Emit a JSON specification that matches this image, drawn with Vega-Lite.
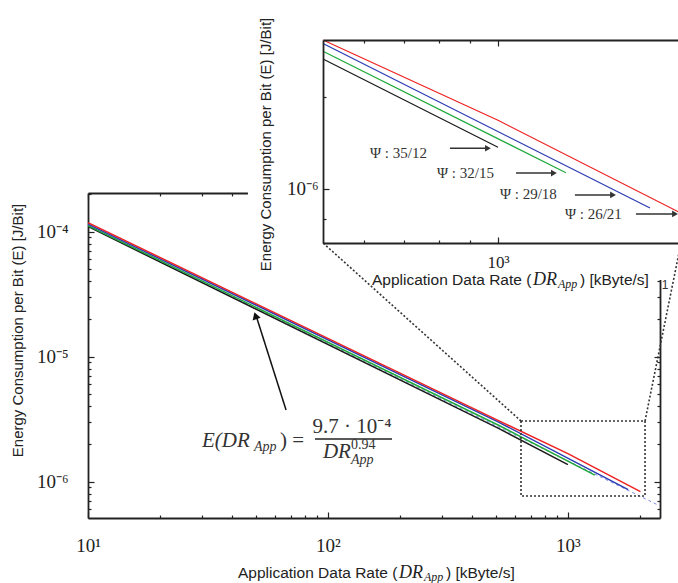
{
  "$schema": "https://vega.github.io/schema/vega-lite/v6.json",
  "width": 572,
  "height": 325,
  "autosize": {"type": "none"},
  "padding": {"left": 88, "top": 193, "right": 18, "bottom": 65},
  "background": "white",
  "config": {"view": {"stroke": null}, "axis": {"grid": false}},
  "datasets": {
    "lines": [
      {"series": "35/12", "x": 10, "y": 1.10e-4},
      {"series": "35/12", "x": 514, "y": 2.67e-6},
      {"series": "35/12", "x": 1000, "y": 1.37e-6},
      {"series": "32/15", "x": 10, "y": 1.12e-4},
      {"series": "32/15", "x": 514, "y": 2.83e-6},
      {"series": "32/15", "x": 1295, "y": 1.13e-6},
      {"series": "29/18", "x": 10, "y": 1.15e-4},
      {"series": "29/18", "x": 514, "y": 3.00e-6},
      {"series": "29/18", "x": 1783, "y": 8.66e-7},
      {"series": "26/21", "x": 10, "y": 1.18e-4},
      {"series": "26/21", "x": 514, "y": 3.08e-6},
      {"series": "26/21", "x": 1000, "y": 1.68e-6},
      {"series": "26/21", "x": 2006, "y": 8.33e-7}
    ],
    "fit": [{"x": 10, "y": 1.114e-4}, {"x": 2420, "y": 6.40e-7}],
    "connectors": [
      {"x": 637.6, "y": 3.06e-6, "x2": 95.4, "y2": 8.13e-5},
      {"x": 2096, "y": 3.06e-6, "x2": 2960, "y2": 8.13e-5}
    ],
    "psi": [
      {"label": "Ψ : 35/12", "tx": 614.6, "ty": 1.315e-6, "ax": 833, "ax2": 962.7, "ay": 1.360e-6},
      {"label": "Ψ : 32/15", "tx": 793, "ty": 1.126e-6, "ax": 1071, "ax2": 1237, "ay": 1.128e-6},
      {"label": "Ψ : 29/18", "tx": 1007.6, "ty": 9.63e-7, "ax": 1340, "ax2": 1549, "ay": 9.56e-7},
      {"label": "Ψ : 26/21", "tx": 1290, "ty": 8.28e-7, "ax": 1690, "ax2": 1961, "ay": 8.28e-7}
    ],
    "one": [{}]
  },
  "resolve": {
    "scale": {"x": "independent", "y": "independent"},
    "axis": {"x": "independent", "y": "independent"}
  },
  "layer": [
    {
      "data": {"name": "fit"},
      "mark": {"type": "line", "color": "#7b8ce6", "strokeWidth": 1, "strokeDash": [3, 3], "clip": true},
      "encoding": {
        "x": {"field": "x", "type": "quantitative", "scale": {"type": "log", "domain": [10, 2420], "nice": false},
          "axis": {"orient": "top", "values": [10,20,30,40,50,60,70,80,90,100,200,300,400,500,600,700,800,900,1000,2000], "labels": false, "title": null, "zindex": 0,
            "tickSize": {"condition": {"test": "datum.value == 10 || datum.value == 100 || datum.value == 1000", "value": -6}, "value": -3},
            "tickColor": "#222", "tickWidth": 1.2, "domainColor": "#222", "domainWidth": 1.8}},
        "y": {"field": "y", "type": "quantitative", "scale": {"type": "log", "domain": [5.13e-7, 2.04e-4], "nice": false},
          "axis": {"orient": "right", "values": [6e-7,7e-7,8e-7,9e-7,1e-6,2e-6,3e-6,4e-6,5e-6,6e-6,7e-6,8e-6,9e-6,1e-5,2e-5,3e-5,4e-5,5e-5,6e-5,7e-5,8e-5,9e-5,1e-4,2e-4], "labels": false, "title": null, "zindex": 0,
            "tickSize": {"condition": {"test": "datum.value == 0.000001 || datum.value == 0.00001 || datum.value == 0.0001", "value": -6}, "value": -3},
            "tickColor": "#222", "tickWidth": 1.2, "domainColor": "#222", "domainWidth": 1.8}}
      }
    },
    {
      "data": {"name": "lines"},
      "mark": {"type": "line", "strokeWidth": 1.5, "clip": true},
      "encoding": {
        "x": {"field": "x", "type": "quantitative", "scale": {"type": "log", "domain": [10, 2420], "nice": false},
          "axis": {"orient": "bottom", "values": [10,20,30,40,50,60,70,80,90,100,200,300,400,500,600,700,800,900,1000,2000], "title": null, "zindex": 0,
            "labelExpr": "datum.value == 10 ? '10¹' : datum.value == 100 ? '10²' : datum.value == 1000 ? '10³' : ''",
            "labelFont": "Liberation Serif", "labelFontSize": 19, "labelColor": "#222", "labelPadding": 24, "labelFlush": false, "labelOverlap": false,
            "tickSize": {"condition": {"test": "datum.value == 10 || datum.value == 100 || datum.value == 1000", "value": -6}, "value": -3},
            "tickColor": "#222", "tickWidth": 1.2, "domainColor": "#222", "domainWidth": 1.8}},
        "y": {"field": "y", "type": "quantitative", "scale": {"type": "log", "domain": [5.13e-7, 2.04e-4], "nice": false},
          "axis": {"orient": "left", "values": [6e-7,7e-7,8e-7,9e-7,1e-6,2e-6,3e-6,4e-6,5e-6,6e-6,7e-6,8e-6,9e-6,1e-5,2e-5,3e-5,4e-5,5e-5,6e-5,7e-5,8e-5,9e-5,1e-4,2e-4], "zindex": 0,
            "labelExpr": "datum.value == 0.000001 ? '10⁻⁶' : datum.value == 0.00001 ? '10⁻⁵' : datum.value == 0.0001 ? '10⁻⁴' : ''",
            "labelFont": "Liberation Serif", "labelFontSize": 19, "labelColor": "#222", "labelPadding": 26, "labelFlush": false, "labelOverlap": false,
            "tickSize": {"condition": {"test": "datum.value == 0.000001 || datum.value == 0.00001 || datum.value == 0.0001", "value": -6}, "value": -3},
            "tickColor": "#222", "tickWidth": 1.2, "domainColor": "#222", "domainWidth": 1.8,
            "title": "Energy Consumption per Bit (E) [J/Bit]", "titleX": -71, "titleY": 137, "titleAngle": -90, "titleAlign": "center", "titleBaseline": "middle",
            "titleFont": "Liberation Sans", "titleFontSize": 15, "titleFontWeight": "normal", "titleColor": "#222"}},
        "color": {"field": "series", "type": "nominal", "scale": {"domain": ["35/12", "32/15", "29/18", "26/21"], "range": ["#1a1a1a", "#1fa83a", "#2b3bb3", "#ee2222"]}, "legend": null}
      }
    },
    {
      "data": {"name": "one"},
      "mark": {"type": "rect", "fill": null, "stroke": "#333", "strokeWidth": 1.6, "strokeDash": [2, 2], "clip": false},
      "encoding": {
        "x": {"datum": 637.6, "type": "quantitative", "scale": {"type": "log", "domain": [10, 2420], "nice": false}, "axis": null},
        "x2": {"datum": 2096},
        "y": {"datum": 7.69e-7, "type": "quantitative", "scale": {"type": "log", "domain": [5.13e-7, 2.04e-4], "nice": false}, "axis": null},
        "y2": {"datum": 3.06e-6}
      }
    },
    {
      "data": {"name": "one"},
      "mark": {"type": "rule", "color": "#111", "strokeWidth": 1.5},
      "encoding": {
        "x": {"datum": 66.9, "type": "quantitative", "scale": {"type": "log", "domain": [10, 2420], "nice": false}, "axis": null},
        "x2": {"datum": 50.5},
        "y": {"datum": 3.75e-6, "type": "quantitative", "scale": {"type": "log", "domain": [5.13e-7, 2.04e-4], "nice": false}, "axis": null},
        "y2": {"datum": 2.05e-5}
      }
    },
    {
      "data": {"name": "one"},
      "mark": {"type": "point", "shape": "triangle-up", "filled": true, "color": "#111", "size": 70, "angle": 342, "opacity": 1},
      "encoding": {
        "x": {"datum": 49.9, "type": "quantitative", "scale": {"type": "log", "domain": [10, 2420], "nice": false}, "axis": null},
        "y": {"datum": 2.13e-5, "type": "quantitative", "scale": {"type": "log", "domain": [5.13e-7, 2.04e-4], "nice": false}, "axis": null}
      }
    },
    {
      "data": {"name": "one"},
      "mark": {"type": "text", "text": "E(DR", "align": "left", "baseline": "middle", "dx": -126, "dy": -41, "font": "Liberation Serif", "fontStyle": "italic", "fontSize": 21, "color": "#333"},
      "encoding": {
        "x": {"datum": 100, "type": "quantitative", "scale": {"type": "log", "domain": [10, 2420], "nice": false}, "axis": null},
        "y": {"datum": 1e-6, "type": "quantitative", "scale": {"type": "log", "domain": [5.13e-7, 2.04e-4], "nice": false}, "axis": null}
      }
    },
    {
      "data": {"name": "one"},
      "mark": {"type": "text", "text": "App", "align": "left", "baseline": "middle", "dx": -74, "dy": -35, "font": "Liberation Serif", "fontStyle": "italic", "fontSize": 14, "color": "#333"},
      "encoding": {
        "x": {"datum": 100, "type": "quantitative", "scale": {"type": "log", "domain": [10, 2420], "nice": false}, "axis": null},
        "y": {"datum": 1e-6, "type": "quantitative", "scale": {"type": "log", "domain": [5.13e-7, 2.04e-4], "nice": false}, "axis": null}
      }
    },
    {
      "data": {"name": "one"},
      "mark": {"type": "text", "text": ") =", "align": "left", "baseline": "middle", "dx": -48, "dy": -41, "font": "Liberation Serif", "fontSize": 21, "color": "#333"},
      "encoding": {
        "x": {"datum": 100, "type": "quantitative", "scale": {"type": "log", "domain": [10, 2420], "nice": false}, "axis": null},
        "y": {"datum": 1e-6, "type": "quantitative", "scale": {"type": "log", "domain": [5.13e-7, 2.04e-4], "nice": false}, "axis": null}
      }
    },
    {
      "data": {"name": "one"},
      "mark": {"type": "text", "text": "9.7 · 10⁻⁴", "align": "center", "baseline": "middle", "dx": 24, "dy": -55, "font": "Liberation Serif", "fontSize": 21, "color": "#333"},
      "encoding": {
        "x": {"datum": 100, "type": "quantitative", "scale": {"type": "log", "domain": [10, 2420], "nice": false}, "axis": null},
        "y": {"datum": 1e-6, "type": "quantitative", "scale": {"type": "log", "domain": [5.13e-7, 2.04e-4], "nice": false}, "axis": null}
      }
    },
    {
      "data": {"name": "one"},
      "mark": {"type": "rule", "color": "#222", "strokeWidth": 1.6},
      "encoding": {
        "x": {"datum": 88.3, "type": "quantitative", "scale": {"type": "log", "domain": [10, 2420], "nice": false}, "axis": null},
        "x2": {"datum": 184.9},
        "y": {"datum": 2.198e-6, "type": "quantitative", "scale": {"type": "log", "domain": [5.13e-7, 2.04e-4], "nice": false}, "axis": null}
      }
    },
    {
      "data": {"name": "one"},
      "mark": {"type": "text", "text": "DR", "align": "left", "baseline": "middle", "dx": -5, "dy": -30, "font": "Liberation Serif", "fontStyle": "italic", "fontSize": 21, "color": "#333"},
      "encoding": {
        "x": {"datum": 100, "type": "quantitative", "scale": {"type": "log", "domain": [10, 2420], "nice": false}, "axis": null},
        "y": {"datum": 1e-6, "type": "quantitative", "scale": {"type": "log", "domain": [5.13e-7, 2.04e-4], "nice": false}, "axis": null}
      }
    },
    {
      "data": {"name": "one"},
      "mark": {"type": "text", "text": "0.94", "align": "left", "baseline": "middle", "dx": 23, "dy": -37, "font": "Liberation Serif", "fontSize": 14, "color": "#333"},
      "encoding": {
        "x": {"datum": 100, "type": "quantitative", "scale": {"type": "log", "domain": [10, 2420], "nice": false}, "axis": null},
        "y": {"datum": 1e-6, "type": "quantitative", "scale": {"type": "log", "domain": [5.13e-7, 2.04e-4], "nice": false}, "axis": null}
      }
    },
    {
      "data": {"name": "one"},
      "mark": {"type": "text", "text": "App", "align": "left", "baseline": "middle", "dx": 23, "dy": -22, "font": "Liberation Serif", "fontStyle": "italic", "fontSize": 14, "color": "#333"},
      "encoding": {
        "x": {"datum": 100, "type": "quantitative", "scale": {"type": "log", "domain": [10, 2420], "nice": false}, "axis": null},
        "y": {"datum": 1e-6, "type": "quantitative", "scale": {"type": "log", "domain": [5.13e-7, 2.04e-4], "nice": false}, "axis": null}
      }
    },
    {
      "data": {"name": "one"},
      "mark": {"type": "text", "text": "Application Data Rate (", "align": "left", "baseline": "middle", "dx": -90, "dy": 55, "font": "Liberation Sans", "fontSize": 15.5, "color": "#222"},
      "encoding": {
        "x": {"datum": 100, "type": "quantitative", "scale": {"type": "log", "domain": [10, 2420], "nice": false}, "axis": null},
        "y": {"datum": 5.13e-7, "type": "quantitative", "scale": {"type": "log", "domain": [5.13e-7, 2.04e-4], "nice": false}, "axis": null}
      }
    },
    {
      "data": {"name": "one"},
      "mark": {"type": "text", "text": "DR", "align": "left", "baseline": "middle", "dx": 71, "dy": 55, "font": "Liberation Serif", "fontStyle": "italic", "fontSize": 18, "color": "#222"},
      "encoding": {
        "x": {"datum": 100, "type": "quantitative", "scale": {"type": "log", "domain": [10, 2420], "nice": false}, "axis": null},
        "y": {"datum": 5.13e-7, "type": "quantitative", "scale": {"type": "log", "domain": [5.13e-7, 2.04e-4], "nice": false}, "axis": null}
      }
    },
    {
      "data": {"name": "one"},
      "mark": {"type": "text", "text": "App", "align": "left", "baseline": "middle", "dx": 96, "dy": 59, "font": "Liberation Serif", "fontStyle": "italic", "fontSize": 12, "color": "#222"},
      "encoding": {
        "x": {"datum": 100, "type": "quantitative", "scale": {"type": "log", "domain": [10, 2420], "nice": false}, "axis": null},
        "y": {"datum": 5.13e-7, "type": "quantitative", "scale": {"type": "log", "domain": [5.13e-7, 2.04e-4], "nice": false}, "axis": null}
      }
    },
    {
      "data": {"name": "one"},
      "mark": {"type": "text", "text": ") [kByte/s]", "align": "left", "baseline": "middle", "dx": 118, "dy": 55, "font": "Liberation Sans", "fontSize": 15.5, "color": "#222"},
      "encoding": {
        "x": {"datum": 100, "type": "quantitative", "scale": {"type": "log", "domain": [10, 2420], "nice": false}, "axis": null},
        "y": {"datum": 5.13e-7, "type": "quantitative", "scale": {"type": "log", "domain": [5.13e-7, 2.04e-4], "nice": false}, "axis": null}
      }
    },
    {
      "data": {"name": "one"},
      "mark": {"type": "rect", "color": "white", "clip": false},
      "encoding": {
        "x": {"datum": 46.4, "type": "quantitative", "scale": {"type": "log", "domain": [10, 2420], "nice": false}, "axis": null},
        "x2": {"datum": 100000},
        "y": {"datum": 4.11e-5, "type": "quantitative", "scale": {"type": "log", "domain": [5.13e-7, 2.04e-4], "nice": false}, "axis": null},
        "y2": {"datum": 0.01}
      }
    },
    {
      "data": {"name": "connectors"},
      "mark": {"type": "rule", "color": "#333", "strokeWidth": 1.6, "strokeDash": [2, 2], "clip": false},
      "encoding": {
        "x": {"field": "x", "type": "quantitative", "scale": {"type": "log", "domain": [10, 2420], "nice": false}, "axis": null},
        "x2": {"field": "x2"},
        "y": {"field": "y", "type": "quantitative", "scale": {"type": "log", "domain": [5.13e-7, 2.04e-4], "nice": false}, "axis": null},
        "y2": {"field": "y2"}
      }
    },
    {
      "data": {"name": "lines"},
      "transform": [{"filter": "datum.x >= 514"}],
      "mark": {"type": "line", "strokeWidth": 1.2, "clip": false},
      "encoding": {
        "x": {"field": "x", "type": "quantitative", "scale": {"type": "log", "domain": [514, 2006], "nice": false, "range": [235, 593]},
          "axis": {"orient": "bottom", "offset": -275, "values": [600, 700, 800, 900, 1000, 2000], "title": null, "zindex": 1,
            "labelExpr": "datum.value == 1000 ? '10³' : ''",
            "labelFont": "Liberation Serif", "labelFontSize": 17, "labelColor": "#222", "labelPadding": 17, "labelFlush": false, "labelOverlap": false,
            "tickSize": {"condition": {"test": "datum.value == 1000", "value": -6}, "value": -3},
            "tickColor": "#222", "tickWidth": 1.2, "domainColor": "#222", "domainWidth": 1.8}},
        "y": {"field": "y", "type": "quantitative", "scale": {"type": "log", "domain": [6.65e-7, 3.08e-6], "nice": false, "range": [50, -153]},
          "axis": {"orient": "left", "offset": -235, "values": [8e-7, 1e-6, 2e-6], "zindex": 1,
            "labelExpr": "datum.value == 0.000001 ? '10⁻⁶' : ''",
            "labelFont": "Liberation Serif", "labelFontSize": 19, "labelColor": "#222", "labelPadding": 11, "labelFlush": false, "labelOverlap": false,
            "tickSize": {"condition": {"test": "datum.value == 0.000001", "value": -6}, "value": -3},
            "tickColor": "#222", "tickWidth": 1.2, "domainColor": "#222", "domainWidth": 1.8,
            "title": "Energy Consumption per Bit (E) [J/Bit]", "titleX": -58, "titleY": -49, "titleAngle": -90, "titleAlign": "center", "titleBaseline": "middle",
            "titleFont": "Liberation Sans", "titleFontSize": 15, "titleFontWeight": "normal", "titleColor": "#222"}},
        "color": {"field": "series", "type": "nominal", "scale": {"domain": ["35/12", "32/15", "29/18", "26/21"], "range": ["#1a1a1a", "#1fa83a", "#2b3bb3", "#ee2222"]}, "legend": null}
      }
    },
    {
      "data": {"name": "psi"},
      "mark": {"type": "rule", "color": "#333", "strokeWidth": 1.5},
      "encoding": {
        "x": {"field": "ax", "type": "quantitative", "scale": {"type": "log", "domain": [514, 2006], "nice": false, "range": [235, 593]},
          "axis": {"orient": "top", "offset": 153, "values": [600, 700, 800, 900, 1000, 2000], "labels": false, "title": null, "zindex": 1,
            "tickSize": {"condition": {"test": "datum.value == 1000", "value": -6}, "value": -3},
            "tickColor": "#222", "tickWidth": 1.2, "domainColor": "#222", "domainWidth": 1.8}},
        "x2": {"field": "ax2"},
        "y": {"field": "ay", "type": "quantitative", "scale": {"type": "log", "domain": [6.65e-7, 3.08e-6], "nice": false, "range": [50, -153]}, "axis": null}
      }
    },
    {
      "data": {"name": "psi"},
      "mark": {"type": "point", "shape": "triangle-right", "filled": true, "color": "#333", "size": 45, "opacity": 1},
      "encoding": {
        "x": {"field": "ax2", "type": "quantitative", "scale": {"type": "log", "domain": [514, 2006], "nice": false, "range": [235, 593]}, "axis": null},
        "y": {"field": "ay", "type": "quantitative", "scale": {"type": "log", "domain": [6.65e-7, 3.08e-6], "nice": false, "range": [50, -153]}, "axis": null}
      }
    },
    {
      "data": {"name": "psi"},
      "mark": {"type": "text", "align": "left", "baseline": "middle", "font": "Liberation Serif", "fontSize": 15, "color": "#333"},
      "encoding": {
        "text": {"field": "label"},
        "x": {"field": "tx", "type": "quantitative", "scale": {"type": "log", "domain": [514, 2006], "nice": false, "range": [235, 593]}, "axis": null},
        "y": {"field": "ty", "type": "quantitative", "scale": {"type": "log", "domain": [6.65e-7, 3.08e-6], "nice": false, "range": [50, -153]}, "axis": null}
      }
    },
    {
      "data": {"name": "one"},
      "mark": {"type": "text", "text": "Application Data Rate (", "align": "left", "baseline": "middle", "dx": -126, "dy": 37, "font": "Liberation Sans", "fontSize": 15.5, "color": "#222"},
      "encoding": {
        "x": {"datum": 1000, "type": "quantitative", "scale": {"type": "log", "domain": [514, 2006], "nice": false, "range": [235, 593]}, "axis": null},
        "y": {"datum": 6.65e-7, "type": "quantitative", "scale": {"type": "log", "domain": [6.65e-7, 3.08e-6], "nice": false, "range": [50, -153]}, "axis": null}
      }
    },
    {
      "data": {"name": "one"},
      "mark": {"type": "text", "text": "DR", "align": "left", "baseline": "middle", "dx": 35, "dy": 37, "font": "Liberation Serif", "fontStyle": "italic", "fontSize": 18, "color": "#222"},
      "encoding": {
        "x": {"datum": 1000, "type": "quantitative", "scale": {"type": "log", "domain": [514, 2006], "nice": false, "range": [235, 593]}, "axis": null},
        "y": {"datum": 6.65e-7, "type": "quantitative", "scale": {"type": "log", "domain": [6.65e-7, 3.08e-6], "nice": false, "range": [50, -153]}, "axis": null}
      }
    },
    {
      "data": {"name": "one"},
      "mark": {"type": "text", "text": "App", "align": "left", "baseline": "middle", "dx": 60, "dy": 41, "font": "Liberation Serif", "fontStyle": "italic", "fontSize": 12, "color": "#222"},
      "encoding": {
        "x": {"datum": 1000, "type": "quantitative", "scale": {"type": "log", "domain": [514, 2006], "nice": false, "range": [235, 593]}, "axis": null},
        "y": {"datum": 6.65e-7, "type": "quantitative", "scale": {"type": "log", "domain": [6.65e-7, 3.08e-6], "nice": false, "range": [50, -153]}, "axis": null}
      }
    },
    {
      "data": {"name": "one"},
      "mark": {"type": "text", "text": ") [kByte/s]", "align": "left", "baseline": "middle", "dx": 82, "dy": 37, "font": "Liberation Sans", "fontSize": 15.5, "color": "#222"},
      "encoding": {
        "x": {"datum": 1000, "type": "quantitative", "scale": {"type": "log", "domain": [514, 2006], "nice": false, "range": [235, 593]}, "axis": null},
        "y": {"datum": 6.65e-7, "type": "quantitative", "scale": {"type": "log", "domain": [6.65e-7, 3.08e-6], "nice": false, "range": [50, -153]}, "axis": null}
      }
    },
    {
      "data": {"name": "one"},
      "mark": {"type": "text", "text": "1", "align": "center", "baseline": "middle", "dx": 167, "dy": 42, "font": "Liberation Sans", "fontSize": 12, "color": "#333"},
      "encoding": {
        "x": {"datum": 1000, "type": "quantitative", "scale": {"type": "log", "domain": [514, 2006], "nice": false, "range": [235, 593]}, "axis": null},
        "y": {"datum": 6.65e-7, "type": "quantitative", "scale": {"type": "log", "domain": [6.65e-7, 3.08e-6], "nice": false, "range": [50, -153]}, "axis": null}
      }
    }
  ]
}
